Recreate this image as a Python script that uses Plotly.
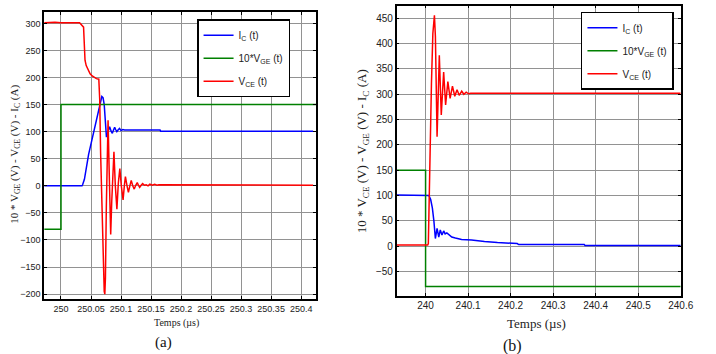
import plotly.graph_objects as go

W, H = 716, 354

# ---------------- data: plot (a) ----------------
A_T_IC = [249.972, 250.035, 250.036, 250.039, 250.046, 250.066, 250.068, 250.070, 250.072,
          250.0757, 250.078, 250.081, 250.0835, 250.0855, 250.0875, 250.0894, 250.091,
          250.093, 250.095, 250.0975, 250.100, 250.103, 250.106, 250.110, 250.165,
          250.166, 250.42]
A_IC = [0, 0, 2, 12, 58, 160, 165, 163, 150,
        90, 100, 109, 101, 97, 103, 108, 104,
        100, 103, 106, 102, 104, 103, 103, 103,
        101, 101]

A_T_VGE = [249.972, 250.0, 250.0, 250.425]
A_VGE = [-80, -80, 150, 150]

A_T_VCE = [249.972, 249.99, 250.00, 250.02, 250.031, 250.0376, 250.040, 250.042,
           250.045, 250.0485, 250.052, 250.059, 250.063, 250.0645, 250.066, 250.068,
           250.070, 250.072, 250.073, 250.074, 250.0755, 250.077, 250.0784, 250.080,
           250.0815, 250.0828, 250.0845, 250.0865, 250.0882, 250.0905, 250.0931,
           250.0955, 250.098, 250.1005, 250.1034, 250.1055, 250.1073, 250.110,
           250.1123, 250.1147, 250.117, 250.1195, 250.122, 250.1245, 250.127,
           250.129, 250.131, 250.1335, 250.136, 250.139, 250.142, 250.145, 250.148,
           250.152, 250.156, 250.160, 250.163, 250.42]
A_VCE = [301, 302, 301, 301, 301, 293, 232, 222,
         214, 207, 203, 198, 197, 160, 60, -40,
         -150, -195, -200, -170, -40, 80, 121, 40,
         -40, -90, -30, 40, 63, 0, -43,
         5, 32, 0, -26, 0, 17, 0,
         -12, 0, 10, 0, -6, 1, 6,
         1, -3, 1, 4, 1, 2, 0, 3,
         1, 3, 1, 2, 1]

A_XTICKS = [250, 250.05, 250.1, 250.15, 250.2, 250.25, 250.3, 250.35, 250.4]
A_XTICKTEXT = ["250", "250.05", "250.1", "250.15", "250.2", "250.25", "250.3", "250.35", "250.4"]
A_YTICKS = [-200, -150, -100, -50, 0, 50, 100, 150, 200, 250, 300]

# ---------------- data: plot (b) ----------------
B_T_IC = [239.932, 240.007, 240.0078, 240.012, 240.016, 240.0195, 240.023, 240.027,
          240.031, 240.0346, 240.0385, 240.0425, 240.046, 240.050, 240.055, 240.0616,
          240.070, 240.0847, 240.108, 240.123, 240.1385, 240.169, 240.2155, 240.219,
          240.373, 240.375, 240.6]
B_IC = [101, 101, 100, 92, 75, 50, 15, 35,
        18, 32, 22, 30, 24, 26, 22, 18,
        16, 13, 12, 10, 9, 7, 5, 3,
        3, 1, 1]

B_T_VGE = [239.932, 240.0, 240.0, 240.6]
B_VGE = [150, 150, -80, -80]

B_T_VCE = [239.932, 240.005, 240.0065, 240.0085, 240.0115, 240.0138, 240.0171, 240.0208,
           240.0231, 240.0270, 240.0323, 240.0369, 240.0425, 240.0471, 240.0524,
           240.0577, 240.0632, 240.0686, 240.074, 240.079, 240.085, 240.090, 240.0955,
           240.101, 240.106, 240.6]
B_VCE = [2, 2, 5, 100, 213, 321, 420, 456,
         414, 216, 377, 259, 344, 279, 325,
         292, 316, 296, 309, 298, 306, 300, 304,
         301, 302, 302]

B_XTICKS = [240, 240.1, 240.2, 240.3, 240.4, 240.5, 240.6]
B_XTICKTEXT = ["240", "240.1", "240.2", "240.3", "240.4", "240.5", "240.6"]
B_YTICKS = [-50, 0, 50, 100, 150, 200, 250, 300, 350, 400, 450]

NAMES = ["I<sub>C</sub> (t)", "10*V<sub>GE</sub> (t)", "V<sub>CE</sub> (t)"]
COLORS = ["#0000ff", "#008000", "#ff0000"]

fig = go.Figure()

for i, ((tx, vy), name, col) in enumerate(zip([(A_T_IC, A_IC), (A_T_VGE, A_VGE), (A_T_VCE, A_VCE)], NAMES, COLORS)):
    fig.add_trace(go.Scatter(x=tx, y=vy, mode="lines", name=name,
                             line=dict(color=col, width=1.5), legendgroup=f"a{i}",
                             xaxis="x", yaxis="y", legend="legend"))
for i, ((tx, vy), name, col) in enumerate(zip([(B_T_IC, B_IC), (B_T_VGE, B_VGE), (B_T_VCE, B_VCE)], NAMES, COLORS)):
    fig.add_trace(go.Scatter(x=tx, y=vy, mode="lines", name=name,
                             line=dict(color=col, width=1.5), legendgroup=f"b{i}",
                             xaxis="x2", yaxis="y2", legend="legend2"))

def px_x(p):
    return p / W

def px_y(p):
    return 1 - p / H

GRID = "#929292"
TICKFONT_A = dict(family="Liberation Sans, Arial", size=9, color="#222")
TICKFONT_B = dict(family="Liberation Sans, Arial", size=10, color="#222")

common = dict(showline=True, linecolor="black", linewidth=1.5, mirror="ticks",
              ticks="inside", ticklen=3, tickcolor="black", showgrid=True,
              gridcolor=GRID, gridwidth=1, zeroline=False)

LEGFONT = dict(family="Liberation Sans, Arial", size=10, color="#222")

fig.update_layout(
    width=W, height=H,
    margin=dict(l=0, r=0, t=0, b=0),
    paper_bgcolor="white", plot_bgcolor="white",
    xaxis=dict(domain=[px_x(45), px_x(322)], range=[249.972, 250.425], anchor="y",
               tickvals=A_XTICKS, ticktext=A_XTICKTEXT, tickfont=TICKFONT_A, **common),
    yaxis=dict(domain=[px_y(299), px_y(12)], range=[-209, 321], anchor="x",
               tickvals=A_YTICKS, tickfont=TICKFONT_A, **common),
    xaxis2=dict(domain=[px_x(404), px_x(693.3)], range=[239.932, 240.6], anchor="y2",
                tickvals=B_XTICKS, ticktext=B_XTICKTEXT, tickfont=TICKFONT_B, **common),
    yaxis2=dict(domain=[px_y(295.7), px_y(5.7)], range=[-98, 475], anchor="x2",
                tickvals=B_YTICKS, tickfont=TICKFONT_B, **common),
    legend=dict(x=px_x(200.7), y=px_y(19.3), xanchor="left", yanchor="top",
                bgcolor="white", bordercolor="black", borderwidth=1.5,
                tracegroupgap=4, font=LEGFONT),
    legend2=dict(x=px_x(591.7), y=px_y(11.7), xanchor="left", yanchor="top",
                 bgcolor="white", bordercolor="black", borderwidth=1.5,
                 tracegroupgap=4, font=LEGFONT),
    showlegend=True,
)

SERIF = "Liberation Serif, Times New Roman"
ann = [
    dict(x=px_x(15), y=px_y(154), text="10 * V<sub>GE</sub> (V) - V<sub>CE</sub> (V) - I<sub>C</sub> (A)",
         textangle=-90, font=dict(family=SERIF, size=11, color="#222")),
    dict(x=px_x(369), y=px_y(151), text="10 * V<sub>CE</sub> (V) - V<sub>GE</sub> (V) - I<sub>C</sub> (A)",
         textangle=-90, font=dict(family=SERIF, size=13, color="#222")),
    dict(x=px_x(180), y=px_y(323), text="Temps (µs)", font=dict(family=SERIF, size=10, color="#222")),
    dict(x=px_x(546.7), y=px_y(323.3), text="Temps (µs)", font=dict(family=SERIF, size=13, color="#222")),
    dict(x=px_x(166.7), y=px_y(342), text="(a)", font=dict(family=SERIF, size=15, color="#111")),
    dict(x=px_x(522), y=px_y(345.5), text="(b)", font=dict(family=SERIF, size=16, color="#111")),
]
for a in ann:
    a.update(xref="paper", yref="paper", showarrow=False, xanchor="center", yanchor="middle")
fig.update_layout(annotations=ann)

fig.write_html("out.html")
